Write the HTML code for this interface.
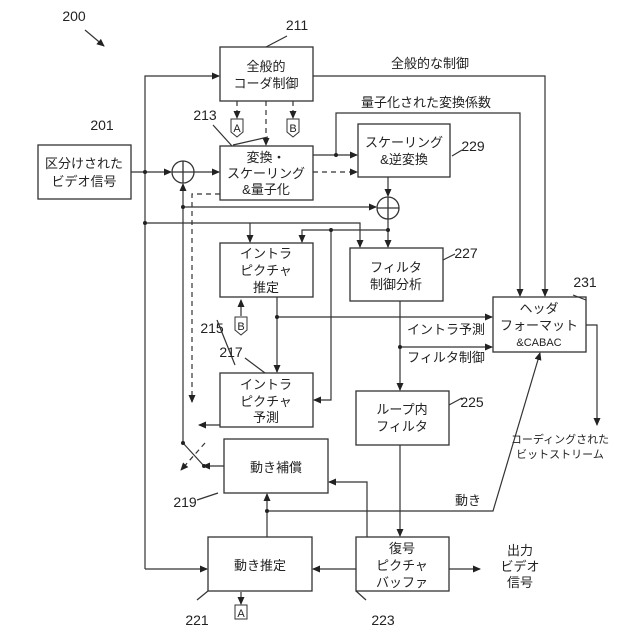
<!DOCTYPE html>
<html><head><meta charset="utf-8"><style>
body{margin:0;background:#fff}
svg{display:block}
text{font-family:"Liberation Sans","Noto Sans CJK JP",sans-serif;fill:#222}
.n{font-family:"Liberation Serif",serif;font-size:14px}
</style></head><body>
<svg width="640" height="640" viewBox="0 0 640 640" xmlns="http://www.w3.org/2000/svg">
<defs><marker id="a" markerWidth="8" markerHeight="8" refX="7" refY="4" orient="auto" markerUnits="userSpaceOnUse"><path d="M0,0.5 L8,4 L0,7.5z" fill="#222"/></marker></defs>
<g fill="none" stroke="#333" stroke-width="1.3">
<rect x="38" y="145" width="93" height="54"/>
<rect x="220" y="47" width="93" height="54"/>
<rect x="220" y="146" width="93" height="54"/>
<rect x="358" y="124" width="92" height="53"/>
<rect x="220" y="243" width="93" height="54"/>
<rect x="350" y="248" width="93" height="53"/>
<rect x="493" y="297" width="93" height="55"/>
<rect x="220" y="373" width="93" height="54"/>
<rect x="356" y="391" width="93" height="54"/>
<rect x="224" y="439" width="104" height="54"/>
<rect x="208" y="537" width="104" height="54"/>
<rect x="356" y="537" width="93" height="54"/>
<circle cx="183" cy="172" r="11"/><path d="M172,172H194M183,161V183"/>
<circle cx="388" cy="208" r="11"/><path d="M377,208H399M388,197V219"/>
</g>
<g fill="none" stroke="#333" stroke-width="1.2">
<path d="M131,172H171" marker-end="url(#a)"/>
<path d="M194,172H219" marker-end="url(#a)"/>
<path d="M145,569V76H219" marker-end="url(#a)"/>
<path d="M145,569H207" marker-end="url(#a)"/>
<path d="M313,76H545V296" marker-end="url(#a)"/>
<path d="M313,155H357" marker-end="url(#a)"/>
<path d="M336,155V113H520V296" marker-end="url(#a)"/>
<path d="M388,177V196" marker-end="url(#a)"/>
<path d="M183,443V184" marker-end="url(#a)"/>
<path d="M183,207H376" marker-end="url(#a)"/>
<path d="M145,223H360V247" marker-end="url(#a)"/>
<path d="M250,223V242" marker-end="url(#a)"/>
<path d="M388,219V247" marker-end="url(#a)"/>
<path d="M388,230H302V242" marker-end="url(#a)"/>
<path d="M331,230V400H314" marker-end="url(#a)"/>
<path d="M277,297V372" marker-end="url(#a)"/>
<path d="M277,317H492" marker-end="url(#a)"/>
<path d="M400,301V390" marker-end="url(#a)"/>
<path d="M400,347H492" marker-end="url(#a)"/>
<path d="M400,445V536" marker-end="url(#a)"/>
<path d="M356,569H313" marker-end="url(#a)"/>
<path d="M449,569H480" marker-end="url(#a)"/>
<path d="M367,537V482H329" marker-end="url(#a)"/>
<path d="M267,537V494" marker-end="url(#a)"/>
<path d="M267,511H493L540,353" marker-end="url(#a)"/>
<path d="M586,325H597V425" marker-end="url(#a)"/>
<path d="M220,425H199" marker-end="url(#a)"/>
<path d="M224,466H203" marker-end="url(#a)"/>
<path d="M183,443L204,466"/>
<path d="M241,592V604" marker-end="url(#a)"/>
<path d="M241,316V300" marker-end="url(#a)"/>
<path d="M85,30L104,46" marker-end="url(#a)"/>
<path d="M266,47L287,36M213,125L232,146M233,145L268,137M452,156L462,150M443,260L455,254M586,300L573,295M235,365L217,320M265,373L245,358M449,405L462,398M197,500L218,493M208,591L197,600M356,591L366,600"/>
</g>
<g fill="none" stroke="#333" stroke-width="1.2" stroke-dasharray="5,4">
<path d="M237,101V118" marker-end="url(#a)"/>
<path d="M266,101V145" marker-end="url(#a)"/>
<path d="M293,101V118" marker-end="url(#a)"/>
<path d="M313,172H357" marker-end="url(#a)"/>
<path d="M220,194H192V402" marker-end="url(#a)"/>
<path d="M205,443L181,470" marker-end="url(#a)"/>
</g>
<g fill="#222">
<circle cx="145" cy="172" r="2"/><circle cx="183" cy="207" r="2"/><circle cx="145" cy="223" r="2"/>
<circle cx="336" cy="155" r="2"/><circle cx="388" cy="230" r="2"/><circle cx="331" cy="230" r="2"/>
<circle cx="277" cy="317" r="2"/><circle cx="400" cy="347" r="2"/><circle cx="267" cy="511" r="2"/>
<circle cx="183" cy="443" r="2"/><circle cx="204" cy="466" r="2"/>
</g>
<g fill="#fff" stroke="#333" stroke-width="1">
<path d="M231,119H243V132L237,137L231,132Z"/><path d="M287,119H299V132L293,137L287,132Z"/>
<path d="M235,317H247V330L241,335L235,330Z"/><rect x="235" y="605" width="12" height="14"/>
</g>
<g font-size="11" text-anchor="middle" font-family="Liberation Serif,serif">
<text x="237" y="132">A</text><text x="293" y="132">B</text><text x="241" y="330">B</text><text x="241" y="617">A</text>
</g>
<g font-size="13" text-anchor="middle">
<text x="84" y="168">区分けされた</text><text x="84" y="186">ビデオ信号</text>
<text x="266" y="71">全般的</text><text x="266" y="88">コーダ制御</text>
<text x="266" y="162">変換・</text><text x="266" y="178">スケーリング</text><text x="266" y="194">&amp;量子化</text>
<text x="404" y="147">スケーリング</text><text x="404" y="164">&amp;逆変換</text>
<text x="266" y="258">イントラ</text><text x="266" y="275">ピクチャ</text><text x="266" y="292">推定</text>
<text x="396" y="272">フィルタ</text><text x="396" y="289">制御分析</text>
<text x="539" y="313">ヘッダ</text><text x="539" y="330">フォーマット</text><text x="539" y="346" font-size="11">&amp;CABAC</text>
<text x="266" y="389">イントラ</text><text x="266" y="406">ピクチャ</text><text x="266" y="422">予測</text>
<text x="402" y="414">ループ内</text><text x="402" y="431">フィルタ</text>
<text x="276" y="472">動き補償</text>
<text x="260" y="570">動き推定</text>
<text x="402" y="553">復号</text><text x="402" y="570">ピクチャ</text><text x="402" y="587">バッファ</text>
<text x="430" y="68">全般的な制御</text>
<text x="426" y="107">量子化された変換係数</text>
<text x="446" y="334">イントラ予測</text>
<text x="446" y="362">フィルタ制御</text>
<text x="468" y="505">動き</text>
<text x="520" y="555">出力</text><text x="520" y="571">ビデオ</text><text x="520" y="587">信号</text>
<text x="560" y="443" font-size="11">コーディングされた</text><text x="560" y="458" font-size="11">ビットストリーム</text>
</g>
<g class="n" text-anchor="middle">
<text x="74" y="21">200</text><text x="297" y="30">211</text><text x="205" y="120">213</text>
<text x="102" y="130">201</text><text x="473" y="151">229</text><text x="466" y="258">227</text>
<text x="585" y="287">231</text><text x="212" y="333">215</text><text x="231" y="357">217</text>
<text x="472" y="407">225</text><text x="185" y="507">219</text><text x="197" y="625">221</text><text x="383" y="625">223</text>
</g>
</svg>
</body></html>
